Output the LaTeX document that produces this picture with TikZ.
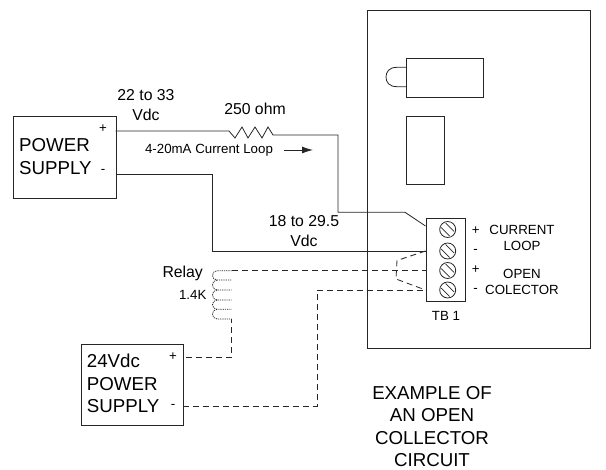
\documentclass[tikz,border=0pt]{standalone}
\usepackage{fontspec}
\setmainfont{Liberation Sans}
\usetikzlibrary{arrows.meta}
\begin{document}
\begin{tikzpicture}[x=1pt,y=-1pt,
  wire/.style={line width=0.8pt,black!85},
  dwire/.style={line width=0.8pt,black!85,dash pattern=on 6pt off 4pt},
  boxx/.style={draw=black!85,line width=0.9pt,inner sep=0pt},
  small/.style={inner sep=0pt,align=center,font=\fontsize{13.3}{16}\selectfont},
  lab/.style={inner sep=0pt,align=center,font=\fontsize{15.8}{20}\selectfont},
  big/.style={inner sep=0pt,align=left,font=\fontsize{18.7}{22.6}\selectfont},
  screwhead/.style={circle,draw=black!85,line width=0.8pt,minimum size=16pt,inner sep=0pt}]
\useasboundingbox (0,0) rectangle (606,470);
% enclosure
\node[boxx,minimum width=223pt,minimum height=338pt,anchor=north west] (enc) at (367,10) {};
\node[boxx,minimum width=77pt,minimum height=39pt,anchor=north west] (led) at (406,58) {};
\node[boxx,minimum width=38pt,minimum height=68pt,anchor=north west] (sw) at (406,116) {};
\draw[wire] (406,67.3) -- (397,67.3) .. controls (389,67.3) and (386,72) .. (386,77) .. controls (386,82) and (389,86.7) .. (397,86.7) -- (406,86.7);
% terminal block
\node[boxx,minimum width=39pt,minimum height=83pt,anchor=north west] (tb) at (425.5,218) {};
\node[screwhead] (s1) at (447.7,229.5) {};
\node[screwhead] (s2) at (447.7,251) {};
\node[screwhead] (s3) at (447.7,270.5) {};
\node[screwhead] (s4) at (447.7,290) {};
\foreach \n in {s1,s2,s3,s4}{
  \draw[line width=0.7pt,black!85] ([shift={(-6.5,-2)}]\n.center)--([shift={(2,6.5)}]\n.center);
  \draw[line width=0.7pt,black!85] ([shift={(-2,-6.5)}]\n.center)--([shift={(6.5,2)}]\n.center);
}
\node[small] (p1) at (475.7,230.7) {+};
\node[small] (m1) at (475.7,251) {-};
\node[small] (p2) at (475.7,270) {+};
\node[small] (m2) at (475.7,290) {-};
\node[small] (cl) at (522,238) {CURRENT\\LOOP};
\node[small] (oc) at (522,282) {OPEN\\COLECTOR};
\node[small] (tbl) at (446,316) {TB 1};
% supplies
\node[boxx,minimum width=103pt,minimum height=82pt,anchor=north west] (ps1) at (13,115.7) {};
\node[big,anchor=west] (pst) at (19,156.5) {POWER\\SUPPLY};
\node[small] (pp1) at (103,129) {+};
\node[small] (pm1) at (103,171.7) {-};
\node[boxx,minimum width=101.7pt,minimum height=81.3pt,anchor=north west] (ps2) at (81,343.7) {};
\node[big,anchor=west] (ps2t) at (86.7,383.5) {24Vdc\\POWER\\SUPPLY};
\node[small] (pp2) at (173,357) {+};
\node[small] (pm2) at (173,406) {-};
% labels
\node[lab] (v1) at (146,105.5) {22 to 33\\Vdc};
\node[lab] (rv) at (255,109) {250 ohm};
\node[small] (cur) at (209,150) {4-20mA Current Loop};
\node[lab] (v2) at (304,231.5) {18 to 29.5\\Vdc};
\node[lab] (rel) at (182.7,273) {Relay};
\node[small] (rk) at (192.7,295) {1.4K};
\node[big,align=center] (ex) at (432,426.5) {EXAMPLE OF\\AN OPEN\\COLLECTOR\\CIRCUIT};
% arrow
\coordinate (a1) at (284,150);
\coordinate (a2) at (313,150);
\draw[wire,-{Latex[length=11pt,width=7pt]}] (a1)--(a2);
% loop wires
\draw[wire] (115.7,131) -- (229,131) -- (235,138) -- (242,127) -- (248,138) -- (255,127) -- (262,138) -- (268,127) -- (273,135) -- (338,135) -- (338,212.3) -- (405,212.3) -- (425.5,226);
\draw[wire] (115.7,174.3) -- (212,174.3) -- (212,251) -- (425.5,251);
% dashed
\draw[dwire] (232,270.7) -- (425.5,270.7);
\draw[dwire] (425.5,251) -- (397,260.5) -- (396,279) -- (425.5,290);
\draw[dwire] (182.7,406) -- (317,406) -- (317,290) -- (425.5,290);
\draw[dwire] (186,357) -- (231.7,357) -- (231.7,319);
% relay coil
\draw[line width=0.8pt,black!85,dash pattern=on 1.2pt off 1pt]
 (231.7,270.7) -- (217,270.7) .. controls (211,270.7) and (211,280) .. (217,280) -- (231.7,280)
 (217,280) .. controls (211,280) and (211,290) .. (217,290) -- (231.7,290)
 (217,290) .. controls (211,290) and (211,300) .. (217,300) -- (231.7,300)
 (217,300) .. controls (211,300) and (211,309.3) .. (217,309.3) -- (231.7,309.3)
 (217,309.3) .. controls (211,309.3) and (211,319) .. (217,319) -- (231.7,319);
\end{tikzpicture}
\end{document}
